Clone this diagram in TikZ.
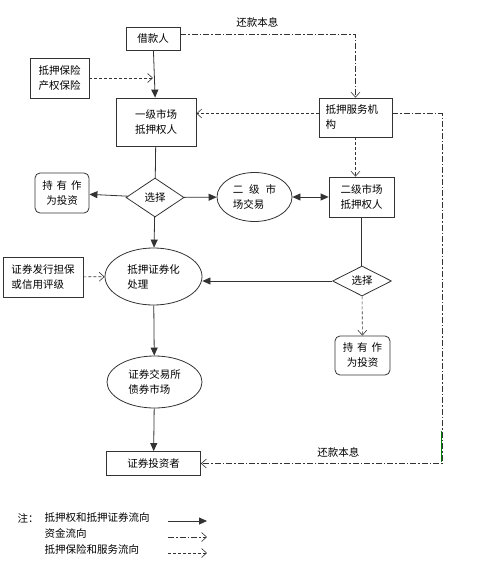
\documentclass[tikz,border=0pt]{standalone}
\usepackage{fontspec}
\setmainfont{Noto Sans CJK SC}
\usetikzlibrary{positioning,shapes.geometric,arrows.meta}

\begin{document}
\begin{tikzpicture}[x=1pt, y=-1pt, font=\fontsize{10.5}{15}\selectfont,
  line/.style={draw=black!80, line width=0.8pt},
  box/.style={line, rectangle, inner sep=0pt, align=center},
  rbox/.style={box, rounded corners=5pt},
  oval/.style={line, ellipse, inner sep=0pt, align=left},
  choice/.style={line, diamond, inner sep=0pt, aspect=1.5},
  flow/.style={line, -{Triangle[width=7pt,length=8pt]}},
  bothflow/.style={line, {Triangle[width=7pt,length=8pt]}-{Triangle[width=7pt,length=8pt]}},
  cash/.style={line, line width=0.6pt, dash pattern=on 6pt off 2pt on 1.5pt off 2pt,
    -{Straight Barb[width=9pt,length=5pt]}},
  serv/.style={line, line width=0.6pt, dash pattern=on 3pt off 2pt,
    -{Straight Barb[width=9pt,length=5pt]}}]

\useasboundingbox (0,0) rectangle (500,586);

% ── Nodes ────────────────────────────────────────────────────
\node[box, minimum width=54pt, minimum height=23pt] (borrow) at (153,38.5) {借款人};
\node[box, minimum width=59pt, minimum height=40pt] (insur) at (59.5,78) {抵押保险\\产权保险};
\node[box, minimum width=80pt, minimum height=48pt] (prim) at (156,122) {一级市场\\抵押权人};
\node[box, minimum width=73pt, minimum height=39pt, text width=60pt, align=left] (servc) at (355.5,117.5) {抵押服务机\\构};
\node[box, minimum width=65pt, minimum height=40pt] (sec) at (361.5,197) {二级市场\\抵押权人};

\node[choice, minimum width=58pt, minimum height=39pt] (sel1) at (155,197.5) {选择};
\node[rbox, minimum width=54pt, minimum height=40pt] (hold1) at (62,193) {持\hspace{4pt}有\hspace{4pt}作\\为投资};
\node[oval, minimum width=75pt, minimum height=49pt] (trade) at (254.5,197) {二\hspace{6pt}级\hspace{6pt}市\\场交易};

\node[oval, minimum width=97pt, minimum height=57pt] (secur) at (153.5,276.5) {抵押证券化\\处理};
\node[box, minimum width=80pt, minimum height=40pt, align=left] (rating) at (43,277) {证券发行担保\\或信用评级};
\node[choice, minimum width=59pt, minimum height=30pt] (sel2) at (362,281) {选择};
\node[rbox, minimum width=55pt, minimum height=39pt] (hold2) at (362.5,355.5) {持\hspace{4pt}有\hspace{4pt}作\\为投资};

\node[oval, minimum width=95pt, minimum height=52pt] (exch) at (154.5,382) {证券交易所\\债券市场};
\node[box, minimum width=94pt, minimum height=24pt] (inv) at (153.5,463.5) {证券投资者};

% ── Connectors ───────────────────────────────────────────────
\draw[flow] (borrow) -- (prim);
\draw[serv] (insur.east) -- (insur.east -| borrow.south);
\draw[cash] ([yshift=4pt]borrow.east) -| (servc.north)
  node[pos=0.22, above=4pt] {还款本息};
\draw[serv] ([yshift=4pt]servc.west) -- ([yshift=4pt]servc.west -| prim.east);
\draw[serv] (servc.south) -- (servc.south |- sec.north);

\coordinate (turn) at (442,463.5);
\draw[cash] ([yshift=4pt]servc.east) -| (turn) -- (inv.east)
  node[pos=0.43, above=3pt] {还款本息};
\draw[green!50!black, line width=0.6pt] (441,431) -- (441,462);

\draw[line] (prim) -- (sel1);
\draw[flow] (sel1) -- (hold1);
\draw[flow] (sel1) -- (trade);
\draw[bothflow] (trade) -- (sec);
\draw[flow] (sel1) -- (secur);
\draw[serv] (rating) -- (secur);

\draw[line] (sec.south) -- (sec.south |- sel2.north);
\draw[flow] (sel2.west) -- (sel2.west -| secur.east);
\draw[serv] (sel2) -- (hold2);

\draw[flow] (secur) -- (exch);
\draw[flow] (exch) -- (inv);

% ── Legend ───────────────────────────────────────────────────
\node[anchor=west] (note) at (14,518) {注：};
\node[anchor=west] (lgA) at (41,518) {抵押权和抵押证券流向};
\node[anchor=west] (lgB) at (41,533) {资金流向};
\node[anchor=west] (lgC) at (41,549) {抵押保险和服务流向};
\coordinate (aA) at (168,521); \coordinate (bA) at (207,521);
\coordinate (aB) at (168,537); \coordinate (bB) at (207,537);
\coordinate (aC) at (168,553); \coordinate (bC) at (207,553);
\draw[flow] (aA) -- (bA);
\draw[cash] (aB) -- (bB);
\draw[serv] (aC) -- (bC);

\end{tikzpicture}
\end{document}
